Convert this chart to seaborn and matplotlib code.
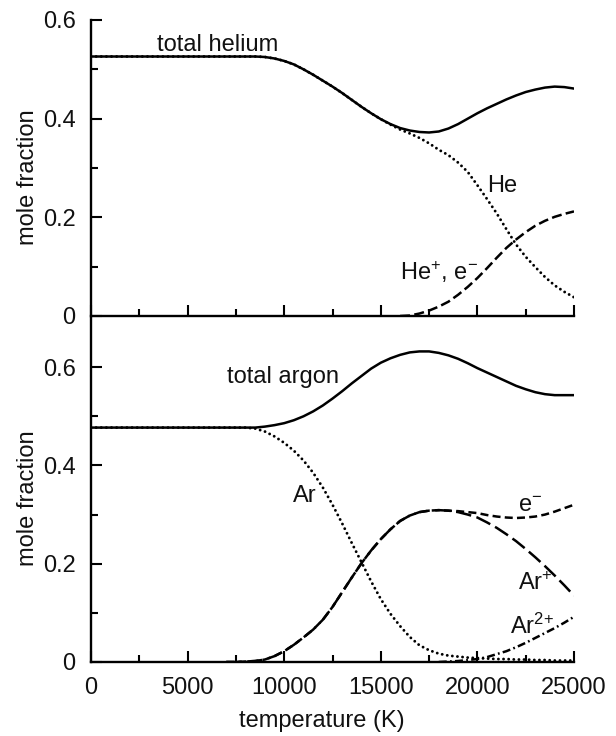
import numpy as np
import pandas as pd
import matplotlib
matplotlib.use("Agg")
import matplotlib.pyplot as plt
import seaborn as sns
from matplotlib.ticker import MultipleLocator, FixedLocator, FuncFormatter

# ---------------- data ----------------
temperature_K = [0, 2500, 5000, 7000, 7500, 8000, 8500, 9000, 9500, 10000,
                 10500, 11000, 11500, 12000, 12500, 13000, 13500, 14000, 14500, 15000,
                 15500, 16000, 16500, 17000, 17500, 18000, 18500, 19000, 19500, 20000,
                 20500, 21000, 21500, 22000, 22500, 23000, 23500, 24000, 24500, 25000]

total_helium = [0.526, 0.526, 0.526, 0.526, 0.526, 0.526, 0.526, 0.525, 0.522, 0.517,
                0.510, 0.500, 0.489, 0.477, 0.465, 0.452, 0.438, 0.424, 0.411, 0.399,
                0.389, 0.381, 0.376, 0.373, 0.372, 0.374, 0.380, 0.389, 0.400, 0.411,
                0.421, 0.430, 0.439, 0.447, 0.454, 0.459, 0.463, 0.465, 0.464, 0.461]
He = [0.526, 0.526, 0.526, 0.526, 0.526, 0.526, 0.526, 0.525, 0.522, 0.517,
      0.510, 0.500, 0.489, 0.477, 0.465, 0.452, 0.438, 0.424, 0.411, 0.399,
      0.388, 0.378, 0.370, 0.361, 0.350, 0.337, 0.326, 0.311, 0.292, 0.265,
      0.237, 0.208, 0.176, 0.145, 0.120, 0.099, 0.079, 0.062, 0.049, 0.038]
He_plus_e = [None, None, None, None, None, None, None, None, None, None,
             None, None, None, None, None, None, None, None, None, None,
             None, 0.0, 0.001, 0.005, 0.011, 0.019, 0.029, 0.043, 0.059, 0.077,
             0.097, 0.118, 0.138, 0.155, 0.170, 0.183, 0.193, 0.201, 0.207, 0.212]

total_argon = [0.477, 0.477, 0.477, 0.477, 0.477, 0.477, 0.477, 0.479, 0.482, 0.486,
               0.492, 0.500, 0.510, 0.522, 0.536, 0.551, 0.567, 0.582, 0.597, 0.609,
               0.618, 0.625, 0.630, 0.632, 0.632, 0.629, 0.624, 0.617, 0.608, 0.598,
               0.589, 0.580, 0.571, 0.562, 0.555, 0.549, 0.545, 0.543, 0.543, 0.543]
Ar = [0.477, 0.477, 0.477, 0.477, 0.477, 0.477, 0.475, 0.469, 0.459, 0.446,
      0.430, 0.410, 0.385, 0.355, 0.320, 0.282, 0.242, 0.203, 0.164, 0.128,
      0.098, 0.073, 0.051, 0.034, 0.024, 0.017, 0.013, 0.011, 0.009, 0.008,
      0.007, 0.006, 0.006, 0.005, 0.005, 0.004, 0.004, 0.003, 0.003, 0.003]
Ar_plus = [None, None, None, 0.0, 0.0, 0.001, 0.002, 0.005, 0.012, 0.022,
           0.035, 0.050, 0.066, 0.086, 0.112, 0.142, 0.172, 0.201, 0.227, 0.250,
           0.270, 0.287, 0.298, 0.305, 0.308, 0.309, 0.308, 0.305, 0.300, 0.294,
           0.284, 0.273, 0.260, 0.246, 0.230, 0.213, 0.195, 0.176, 0.156, 0.135]
e_minus = [None, None, None, 0.0, 0.0, 0.001, 0.002, 0.005, 0.012, 0.022,
           0.035, 0.050, 0.066, 0.086, 0.112, 0.142, 0.172, 0.201, 0.227, 0.250,
           0.270, 0.287, 0.298, 0.305, 0.308, 0.309, 0.308, 0.307, 0.305, 0.303,
           0.299, 0.296, 0.294, 0.293, 0.294, 0.296, 0.300, 0.306, 0.313, 0.320]
Ar_2plus = [None, None, None, None, None, None, None, None, None, None,
            None, None, None, None, None, None, None, None, None, None,
            None, None, None, None, None, 0.0, 0.001, 0.002, 0.004, 0.006,
            0.010, 0.016, 0.022, 0.030, 0.039, 0.049, 0.059, 0.069, 0.080, 0.092]

x_ticks = [0, 5000, 10000, 15000, 20000, 25000]
y_ticks = [0, 0.2, 0.4, 0.6]
y_minor = [0.1, 0.3, 0.5]

# ---------------- style ----------------
sns.set_style("ticks")
plt.rcParams['font.family'] = ['Liberation Sans', 'DejaVu Sans']
plt.rcParams['mathtext.default'] = 'regular'
INK = '#111111'
FS = 17

fig = plt.figure(figsize=(6.16, 7.36), dpi=100)
ax1 = fig.add_axes([91 / 616, 1 - 316 / 736, 483 / 616, 296 / 736])
ax2 = fig.add_axes([91 / 616, 1 - 662 / 736, 483 / 616, 344 / 736])


def draw(ax, values, ls, lw, cap='butt'):
    df = pd.DataFrame({'T': temperature_K, 'x': values}).astype(float).dropna()
    sns.lineplot(data=df, x='T', y='x', ax=ax, color='black', linestyle=ls,
                 linewidth=lw, estimator=None, sort=False, dash_capstyle=cap)


dotted = (0, (0.01, 1.75))
LW = 1.8
# helium panel
draw(ax1, He, dotted, 2.1, cap='round')
draw(ax1, He_plus_e, (0, (4.0, 1.7)), LW)
draw(ax1, total_helium, '-', LW)
# argon panel
draw(ax2, Ar, dotted, 2.1, cap='round')
draw(ax2, Ar_plus, (0, (6.2, 2.2)), LW)
draw(ax2, e_minus, (0, (3.2, 1.7)), LW)
draw(ax2, Ar_2plus, (0, (3.2, 1.3, 0.7, 1.3)), LW)
draw(ax2, total_argon, '-', LW)

yfmt = FuncFormatter(lambda v, p: '0' if abs(v) < 1e-9 else f'{v:.1f}')
for ax, top in ((ax1, 0.6), (ax2, 0.7)):
    ax.set_xlim(0, 25000)
    ax.set_ylim(0, top)
    sns.despine(ax=ax)
    for s in ('left', 'bottom'):
        ax.spines[s].set_linewidth(1.7)
        ax.spines[s].set_color('black')
    ax.xaxis.set_major_locator(FixedLocator(x_ticks))
    ax.xaxis.set_minor_locator(MultipleLocator(2500))
    ax.yaxis.set_major_locator(FixedLocator(y_ticks))
    ax.yaxis.set_minor_locator(FixedLocator(y_minor))
    ax.yaxis.set_major_formatter(yfmt)
    ax.xaxis.set_major_formatter(FuncFormatter(lambda v, p: f'{int(v)}'))
    ax.tick_params(which='both', direction='in', width=1.5, color='black',
                   labelsize=FS, labelcolor=INK)
    ax.tick_params(which='major', length=8)
    ax.tick_params(which='minor', length=5)
    ax.tick_params(axis='y', pad=11)
    ax.tick_params(axis='x', pad=11)
    ax.set_ylabel('mole fraction', fontsize=FS, color=INK)
    ax.set_xlabel('')
    ax.set_facecolor('white')

ax1.tick_params(axis='x', labelbottom=False)
ax1.yaxis.set_label_coords(-0.108, 0.468)
ax2.yaxis.set_label_coords(-0.108, 0.477)
ax2.set_xlabel('temperature (K)', fontsize=FS, color=INK)
ax2.xaxis.set_label_coords(0.478, -0.14)

# curve labels
txt = dict(fontsize=FS, color=INK, ha='left', va='baseline')
ax1.text(3416, 0.538, 'total helium', **txt)
ax1.text(20497, 0.251, 'He', **txt)
ax1.text(15994, 0.073, 'He$^{+}$, e$^{-}$', **txt)
ax2.text(7039, 0.567, 'total argon', **txt)
ax2.text(10455, 0.325, 'Ar', **txt)
ax2.text(22100, 0.305, 'e$^{-}$', **txt)
ax2.text(22100, 0.146, 'Ar$^{+}$', **txt)
ax2.text(21690, 0.057, 'Ar$^{2{+}}$', **txt)

fig.savefig('out.png', dpi=100, facecolor='white')
